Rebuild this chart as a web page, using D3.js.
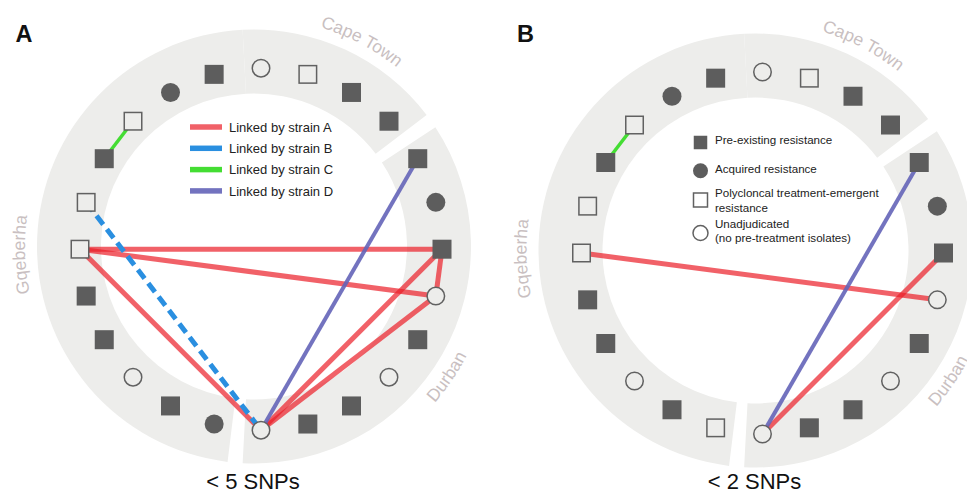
<!DOCTYPE html>
<html><head><meta charset="utf-8">
<script src="https://cdn.jsdelivr.net/npm/d3@7"></script>
<style>body{margin:0;background:#fff}svg{display:block}</style>
</head><body><svg id="chart" width="967" height="494"></svg>
<script>
// ---------------- data ----------------
const regions = ["Cape Town", "Durban", "Gqeberha"];
const regionSizes = [4, 9, 11];
// node types clockwise from the top
const nodeTypesA = ["unadj","poly","pre","pre",
  "pre","acq","pre","unadj","pre","unadj","pre","pre","unadj",
  "acq","pre","unadj","pre","pre","poly","poly","pre","poly","acq","pre"];
const nodeTypesB = ["unadj","poly","pre","pre",
  "pre","acq","pre","unadj","pre","unadj","pre","pre","unadj",
  "poly","pre","unadj","pre","pre","poly","poly","pre","poly","acq","pre"];
const strains = ["A", "B", "C", "D"];
const linksA = [
  {strain:"A", source:18, target:6}, {strain:"A", source:18, target:7},
  {strain:"A", source:18, target:12}, {strain:"A", source:12, target:6},
  {strain:"A", source:12, target:7}, {strain:"A", source:6, target:7},
  {strain:"B", source:19, target:12},
  {strain:"C", source:20, target:21},
  {strain:"D", source:4, target:12}
];
const linksB = [
  {strain:"A", source:18, target:7}, {strain:"A", source:12, target:6},
  {strain:"C", source:20, target:21},
  {strain:"D", source:4, target:12}
];
const strainLegendLabels = ["Linked by strain A","Linked by strain B","Linked by strain C","Linked by strain D"];
const symbolTypes = ["pre","acq","poly","unadj"];
const symbolLegendLabels = [["Pre-existing resistance"],["Acquired resistance"],
  ["Polycloncal treatment-emergent","resistance"],["Unadjudicated","(no pre-treatment isolates)"]];
const panelLetters = ["A", "B"];
const panelCaptions = ["< 5 SNPs", "< 2 SNPs"];

// ---------------- styles / layout ----------------
const FONT = "'Liberation Sans', Arial, Helvetica, sans-serif";
const strainColor = d3.scaleOrdinal().domain(strains).range(["#eb1e28","#2a8fe0","#44dd33","#6464b8"]);
const strainWidth = {A:5, B:5, C:3.5, D:4};
const strainOpacity = {A:0.7, B:1, C:1, D:0.9};
const DARK = "#5d5d5d", RING = "#ededeb", LABEL = "#c9bfc1";

const svg = d3.select("#chart");
const nTotal = d3.sum(regionSizes);
const angle = d3.scaleLinear().domain([0, nTotal]).range([0, 2 * Math.PI]);
const NODE_R = 181;

const panels = [
  {ring:[254, 246.5], node:[261, 249.2], types:nodeTypesA, links:linksA, legend:"lines"},
  {ring:[755.5, 250.5], node:[762.5, 253], types:nodeTypesB, links:linksB, legend:"symbols"}
];
// sector boundaries (degrees, around ring centre)
const sectorBounds = [[-3, 52.7], [56.7, 183], [187, 357]];
const labelGeom = [
  {r:229, a:27.7, cw:true},
  {r:239, a:124, cw:false},
  {r:229, a:268, cw:true}
];

const rad = d => d * Math.PI / 180;
function arcPathD(cx, cy, r, a0, a1, cw) {
  const p = a => [cx + r * Math.sin(rad(a)), cy - r * Math.cos(rad(a))];
  const s = p(a0), e = p(a1);
  return `M${s[0]},${s[1]} A${r},${r} 0 0 ${cw ? 1 : 0} ${e[0]},${e[1]}`;
}

function drawSymbol(g, type, x, y, size, openFill) {
  if (type === "pre") {
    g.append("rect").attr("x", x - size/2).attr("y", y - size/2)
      .attr("width", size).attr("height", size).attr("fill", DARK);
  } else if (type === "acq") {
    g.append("circle").attr("cx", x).attr("cy", y).attr("r", size/2).attr("fill", DARK);
  } else if (type === "poly") {
    const s = size - 1.5;
    g.append("rect").attr("x", x - s/2).attr("y", y - s/2)
      .attr("width", s).attr("height", s).attr("fill", openFill)
      .attr("stroke", "#616161").attr("stroke-width", 1.5);
  } else {
    g.append("circle").attr("cx", x).attr("cy", y).attr("r", size/2 - 0.75)
      .attr("fill", openFill).attr("stroke", "#616161").attr("stroke-width", 1.5);
  }
}

const defs = svg.append("defs");

panels.forEach((P, pi) => {
  const g = svg.append("g");
  const [rcx, rcy] = P.ring, [ncx, ncy] = P.node;

  // ring sectors
  const arc = d3.arc().innerRadius(153).outerRadius(217);
  regions.forEach((reg, i) => {
    g.append("path")
      .attr("transform", `translate(${rcx},${rcy})`)
      .attr("d", arc({startAngle: rad(sectorBounds[i][0]), endAngle: rad(sectorBounds[i][1])}))
      .attr("fill", RING);
  });

  // region labels along arcs
  regions.forEach((reg, i) => {
    const L = labelGeom[i];
    const id = `lab${pi}_${i}`;
    const a0 = L.cw ? L.a - 35 : L.a + 35, a1 = L.cw ? L.a + 35 : L.a - 35;
    defs.append("path").attr("id", id).attr("d", arcPathD(rcx, rcy, L.r, a0, a1, L.cw));
    g.append("text").attr("font-family", FONT).attr("font-size", 17.5).attr("fill", LABEL)
      .append("textPath").attr("href", "#" + id).attr("startOffset", "50%")
      .attr("text-anchor", "middle").text(reg);
  });

  // node positions
  const pos = P.types.map((t, i) => {
    const a = angle(i);
    return [ncx + NODE_R * Math.sin(a), ncy - NODE_R * Math.cos(a)];
  });

  // links
  strains.forEach(s => {
    P.links.filter(l => l.strain === s).forEach(l => {
      const a = pos[l.source], b = pos[l.target];
      const ln = g.append("line").attr("x1", a[0]).attr("y1", a[1]).attr("x2", b[0]).attr("y2", b[1])
        .attr("stroke", strainColor(s)).attr("stroke-width", strainWidth[s])
        .attr("stroke-opacity", strainOpacity[s]);
      if (s === "B") ln.attr("stroke-dasharray", "11,6");
    });
  });

  // nodes
  P.types.forEach((t, i) => drawSymbol(g, t, pos[i][0], pos[i][1], 19, RING));

  // legend
  if (P.legend === "lines") {
    strainLegendLabels.forEach((lab, i) => {
      const y = rcy - 119.5 + i * 21.3;
      g.append("line").attr("x1", rcx - 64).attr("x2", rcx - 32).attr("y1", y).attr("y2", y)
        .attr("stroke", strainColor(strains[i])).attr("stroke-width", 5.5)
        .attr("stroke-opacity", strainOpacity[strains[i]]);
      g.append("text").attr("x", rcx - 25).attr("y", y + 4.6).attr("font-family", FONT)
        .attr("font-size", 13).attr("fill", "#222").text(lab);
    });
  } else {
    const symY = [-108, -79.8, -50.5, -17.5];
    const symSize = [13.5, 15, 15.5, 16.5];
    const textY = [[-106.5], [-77.3], [-53.5, -39], [-22.5, -8.5]];
    symbolTypes.forEach((t, i) => {
      drawSymbol(g, t, rcx - 55, rcy + symY[i], symSize[i], "#fff");
      symbolLegendLabels[i].forEach((line, j) => {
        g.append("text").attr("x", rcx - 40.5).attr("y", rcy + textY[i][j])
          .attr("font-family", FONT).attr("font-size", 11.6).attr("fill", "#222").text(line);
      });
    });
  }

  // panel letter and caption
  svg.append("text").attr("x", rcx - 238.5).attr("y", 42).attr("font-family", FONT)
    .attr("font-weight", "bold").attr("font-size", 23.5).attr("fill", "#111").text(panelLetters[pi]);
  svg.append("text").attr("x", rcx - 1).attr("y", 489).attr("text-anchor", "middle")
    .attr("font-family", FONT).attr("font-size", 22).attr("fill", "#111").text(panelCaptions[pi]);
});
</script></body></html>
